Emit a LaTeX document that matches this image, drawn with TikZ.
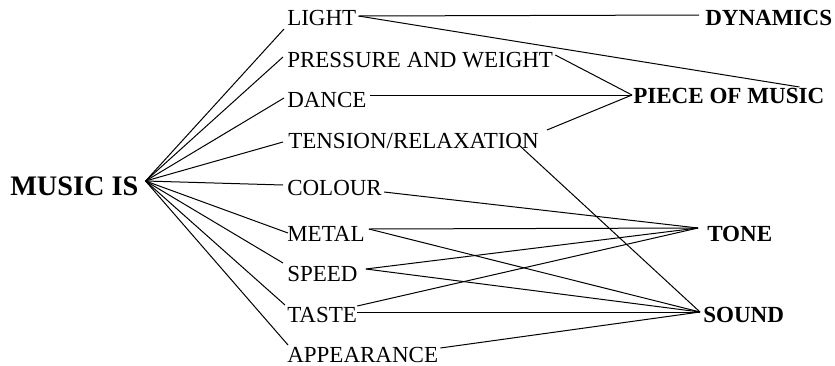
\documentclass[tikz,border=0pt]{standalone}
\usepackage{fontspec}
\setmainfont{Liberation Serif}
\usetikzlibrary{calc}
\begin{document}
\begin{tikzpicture}[x=0.75pt,y=-0.75pt,
  lbl/.style={inner sep=0pt, anchor=base west, font=\fontsize{17.25pt}{20pt}\selectfont},
  blbl/.style={inner sep=0pt, anchor=base west, font=\fontsize{17.3pt}{20pt}\selectfont\bfseries},
  conn/.style={draw=black, line width=0.75pt}]
\useasboundingbox (0,0) rectangle (835,365);
% hub label
\node[inner sep=0pt, anchor=base west, font=\fontsize{21.2pt}{24pt}\selectfont\bfseries] (music) at (10,195) {MUSIC IS};
% middle labels
\node[lbl] (light) at (287,25) {LIGHT};
\node[lbl] (press) at (287,67) {PRESSURE AND WEIGHT};
\node[lbl] (dance) at (287,107) {DANCE};
\node[lbl] (tens)  at (288,148) {TENSION/RELAXATION};
\node[lbl] (colour) at (287,195) {COLOUR};
\node[lbl] (metal) at (287,241) {METAL};
\node[lbl] (speed) at (287,281) {SPEED};
\node[lbl] (taste) at (287,322) {TASTE};
\node[lbl] (appear) at (287,362) {APPEARANCE};
% right labels
\node[blbl] (dyn) at (705,25) {DYNAMICS};
\node[blbl] (pom) at (633,103) {PIECE OF MUSIC};
\node[blbl] (tone) at (707,241) {TONE};
\node[blbl] (sound) at (703,322) {SOUND};
% hub point
\coordinate (hub) at ($(music.base east)+(7,-14)$);
% left fan
\draw[conn] (hub) -- ($(light.base west)+(-3,4)$);
\draw[conn] (hub) -- ($(press.base west)+(-4,-10)$);
\draw[conn] (hub) -- ($(dance.base west)+(-3,-9)$);
\draw[conn] (hub) -- ($(tens.base west)+(-5,-6)$);
\draw[conn] (hub) -- ($(colour.base west)+(-4,-10)$);
\draw[conn] (hub) -- ($(metal.base west)+(1,-8)$);
\draw[conn] (hub) -- ($(speed.base west)+(-4,-18)$);
\draw[conn] (hub) -- ($(taste.base west)+(-2,-17)$);
\draw[conn] (hub) -- ($(appear.base west)+(1,-17)$);
% right connections
\coordinate (dynin) at ($(dyn.base west)+(-6,-10)$);
\coordinate (pomin) at ($(pom.base west)+(-1,-8)$);
\coordinate (pomtop) at ($(pom.base east)+(-25,-16)$);
\coordinate (tonein) at ($(tone.base west)+(-9,-13)$);
\coordinate (soundin) at ($(sound.base west)+(-3,-10)$);
\draw[conn] ($(light.base east)+(2,-9)$) -- (dynin);
\draw[conn] ($(light.base east)+(2,-9)$) -- (pomtop);
\draw[conn] ($(press.base east)+(2,-12)$) -- (pomin);
\draw[conn] ($(dance.base east)+(3,-12)$) -- (pomin);
\draw[conn] ($(tens.base east)+(8,-18)$) -- (pomin);
\draw[conn] ($(tens.base east)+(-20,-3)$) -- (soundin);
\draw[conn] ($(colour.base east)+(2,-3)$) -- (tonein);
\draw[conn] ($(metal.base east)+(4,-12)$) -- (tonein);
\draw[conn] ($(metal.base east)+(4,-12)$) -- (soundin);
\draw[conn] ($(speed.base east)+(8,-12)$) -- (tonein);
\draw[conn] ($(speed.base east)+(8,-12)$) -- (soundin);
\draw[conn] ($(taste.base east)+(0,-16)$) -- (tonein);
\draw[conn] ($(taste.base east)+(0,-10)$) -- (soundin);
\draw[conn] ($(appear.base east)+(2,-14)$) -- (soundin);
\end{tikzpicture}
\end{document}
